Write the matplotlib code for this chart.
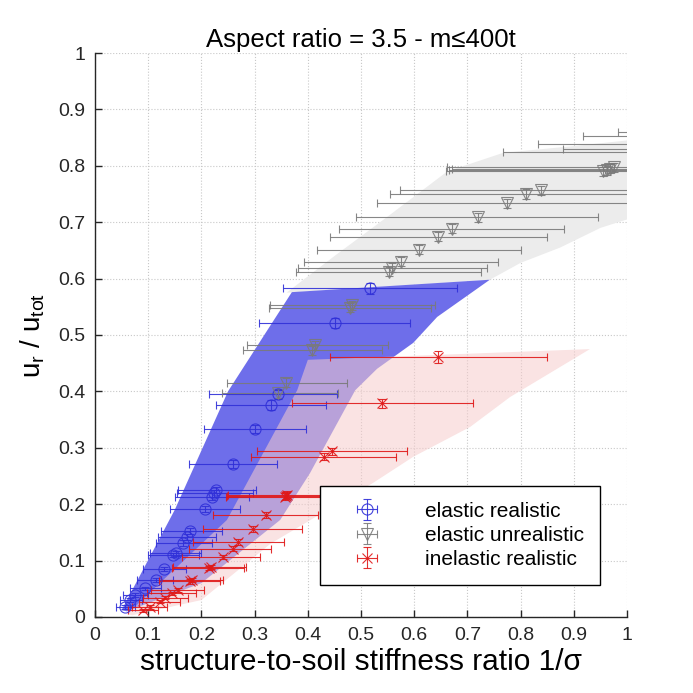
import matplotlib
matplotlib.use("Agg")
import matplotlib.pyplot as plt
from matplotlib.patches import Polygon
import numpy as np

plt.rcParams['font.family'] = ['Liberation Sans', 'DejaVu Sans']
plt.rcParams['mathtext.default'] = 'regular'

# ---------------- data ----------------
# elastic realistic (blue circles)
er_x = [0.517, 0.451, 0.344, 0.331, 0.301, 0.259, 0.227, 0.224, 0.220, 0.207,
        0.179, 0.173, 0.166, 0.152, 0.147, 0.130, 0.115, 0.094, 0.075, 0.066, 0.056]
er_y = [0.583, 0.521, 0.395, 0.376, 0.333, 0.271, 0.225, 0.219, 0.213, 0.191,
        0.153, 0.142, 0.131, 0.113, 0.110, 0.085, 0.066, 0.051, 0.039, 0.030, 0.018]
er_xlo = [0.353, 0.308, 0.215, 0.227, 0.205, 0.177, 0.156, 0.154, 0.150, 0.141,
          0.124, 0.119, 0.115, 0.103, 0.100, 0.090, 0.079, 0.066, 0.053, 0.047, 0.040]
er_xhi = [0.680, 0.592, 0.455, 0.434, 0.397, 0.342, 0.302, 0.297, 0.290, 0.273,
          0.238, 0.227, 0.220, 0.200, 0.195, 0.171, 0.146, 0.125, 0.100, 0.088, 0.075]
er_yerr = [0.010, 0.009, 0.008, 0.009, 0.007, 0.007, 0.006, 0.006, 0.006, 0.005,
           0.005, 0.005, 0.005, 0.004, 0.004, 0.004, 0.004, 0.003, 0.003, 0.003, 0.003]

# elastic unrealistic (gray triangles)
eu_x = [0.553, 0.558, 0.575, 0.609, 0.645, 0.671, 0.720, 0.774, 0.810, 0.838,
        0.955, 0.962, 0.968, 0.975, 1.10, 1.15, 1.20, 1.25, 1.30,
        0.483, 0.480, 0.414, 0.408, 0.359, 0.344]
eu_y = [0.612, 0.619, 0.630, 0.651, 0.674, 0.688, 0.709, 0.734, 0.750, 0.757,
        0.790, 0.792, 0.795, 0.797, 0.860, 0.853, 0.839, 0.830, 0.824,
        0.553, 0.548, 0.482, 0.473, 0.415, 0.397]
eu_xlo = [0.378, 0.382, 0.393, 0.417, 0.442, 0.459, 0.490, 0.530, 0.555, 0.573,
          0.660, 0.665, 0.670, 0.662, 0.983, 0.917, 0.833, 0.880, 0.767,
          0.329, 0.327, 0.285, 0.278, 0.248, 0.238]
eu_xhi = [0.725, 0.737, 0.757, 0.800, 0.850, 0.882, 0.946, 1.150, 1.150, 1.150,
          1.300, 1.300, 1.300, 1.300, 1.300, 1.300, 1.300, 1.300, 1.300,
          0.639, 0.631, 0.550, 0.540, 0.473, 0.457]
eu_yerr = [0.008] * 25

# inelastic realistic (red crosses)
ir_x = [0.645, 0.539, 0.445, 0.430, 0.357, 0.359, 0.361, 0.321, 0.297, 0.269,
        0.259, 0.240, 0.218, 0.214, 0.182, 0.178, 0.156, 0.145, 0.132, 0.122, 0.103, 0.090]
ir_y = [0.461, 0.379, 0.294, 0.284, 0.213, 0.215, 0.217, 0.181, 0.156, 0.133,
        0.121, 0.106, 0.089, 0.087, 0.066, 0.063, 0.048, 0.042, 0.034, 0.027, 0.018, 0.012]
ir_xlo = [0.442, 0.370, 0.304, 0.293, 0.246, 0.248, 0.250, 0.222, 0.203, 0.184,
          0.177, 0.163, 0.147, 0.145, 0.124, 0.121, 0.105, 0.098, 0.090, 0.083, 0.070, 0.062]
ir_xhi = [0.850, 0.711, 0.586, 0.566, 0.470, 0.475, 0.480, 0.420, 0.389, 0.355,
          0.330, 0.310, 0.284, 0.280, 0.240, 0.235, 0.205, 0.190, 0.175, 0.160, 0.135, 0.118]
ir_yerr = [0.011, 0.008, 0.006, 0.006, 0.006, 0.006, 0.006, 0.005, 0.005, 0.005,
           0.004, 0.004, 0.004, 0.004, 0.004, 0.004, 0.003, 0.003, 0.003, 0.003, 0.003, 0.003]

# shaded bands (outline vertices)
band_gray_x = [0.36, 0.45, 0.55, 0.662, 0.767, 0.90, 1.05, 1.05, 0.95, 0.874, 0.80, 0.742, 0.55]
band_gray_y = [0.575, 0.64, 0.71, 0.790, 0.823, 0.835, 0.850, 0.72, 0.69, 0.655, 0.628, 0.598, 0.586]

band_blue_x = [0.050, 0.150, 0.250, 0.370, 0.742, 0.643, 0.598, 0.530, 0.489, 0.404, 0.348, 0.200, 0.060]
band_blue_y = [0.012, 0.190, 0.400, 0.576, 0.598, 0.532, 0.486, 0.440, 0.402, 0.255, 0.172, 0.060, 0.010]

band_red_x = [0.060, 0.248, 0.380, 0.400, 0.930, 0.780, 0.705, 0.598, 0.523, 0.330, 0.200, 0.070]
band_red_y = [0.005, 0.172, 0.402, 0.456, 0.475, 0.390, 0.337, 0.284, 0.238, 0.130, 0.030, 0.003]

labels = ['elastic realistic', 'elastic unrealistic', 'inelastic realistic']

# ---------------- figure ----------------
fig = plt.figure(figsize=(6.93, 6.93), dpi=100)
ax = fig.add_axes([0.137, 0.1097, 0.768, 0.8138])

ax.add_patch(Polygon(np.column_stack([band_gray_x, band_gray_y]), closed=True,
                     facecolor='#ececec', edgecolor='none', zorder=1))
ax.add_patch(Polygon(np.column_stack([band_blue_x, band_blue_y]), closed=True,
                     facecolor='#6e6eea', edgecolor='none', zorder=1.1))
ax.add_patch(Polygon(np.column_stack([band_red_x, band_red_y]), closed=True,
                     facecolor='#f6cccc', alpha=0.55, edgecolor='none', zorder=1.2))

def draw(xs, ys, xlo, xhi, yerr, color, marker, label, ms):
    xs = np.array(xs); ys = np.array(ys)
    xerr = np.vstack([xs - np.array(xlo), np.array(xhi) - xs])
    return ax.errorbar(xs, ys, xerr=xerr, yerr=yerr, fmt=marker, color=color,
                       mfc='none', mec=color, ms=ms, mew=0.8, elinewidth=0.8,
                       capsize=3.2, capthick=0.8, label=label, zorder=3, alpha=0.9)

h1 = draw(er_x, er_y, er_xlo, er_xhi, er_yerr, '#3030d8', 'o', labels[0], 8)
h2 = draw(eu_x, eu_y, eu_xlo, eu_xhi, eu_yerr, '#7a7a7a', 'v', labels[1], 8)
h3 = draw(ir_x, ir_y, ir_xlo, ir_xhi, ir_yerr, '#e01818', 'x', labels[2], 7)

ax.set_xlim(0, 1)
ax.set_ylim(0, 1)
ax.set_xticks(np.arange(0, 1.01, 0.1))
ax.set_yticks(np.arange(0, 1.01, 0.1))
ax.set_xticklabels(['0', '0.1', '0.2', '0.3', '0.4', '0.5', '0.6', '0.7', '0.8', '0.9', '1'])
ax.set_yticklabels(['0', '0.1', '0.2', '0.3', '0.4', '0.5', '0.6', '0.7', '0.8', '0.9', '1'])
ax.grid(True, linestyle=':', color='#c8c8c8', linewidth=0.8)
ax.set_axisbelow(True)
for s in ['top', 'right']:
    ax.spines[s].set_visible(False)
for s in ['left', 'bottom']:
    ax.spines[s].set_color('#262626')
    ax.spines[s].set_linewidth(1.0)
ax.tick_params(direction='in', length=5, width=1.0, labelsize=14, colors='#262626', pad=7)

ax.set_title('Aspect ratio = 3.5 - m≤400t', fontsize=18.5, pad=4)
ax.set_xlabel('structure-to-soil stiffness ratio 1/σ', fontsize=21.5, labelpad=3)
ax.set_ylabel('u$_r$ / u$_{tot}$', fontsize=20, labelpad=8)

leg = ax.legend(handles=[h1, h2, h3], loc='lower left', bbox_to_anchor=(0.423, 0.057),
                borderaxespad=0, fontsize=15, frameon=True, fancybox=False,
                edgecolor='black', framealpha=1, handlelength=3.0, handletextpad=1.3,
                borderpad=0.75, labelspacing=0.25)
leg.get_frame().set_linewidth(1.0)

fig.savefig('out.png', dpi=100)
